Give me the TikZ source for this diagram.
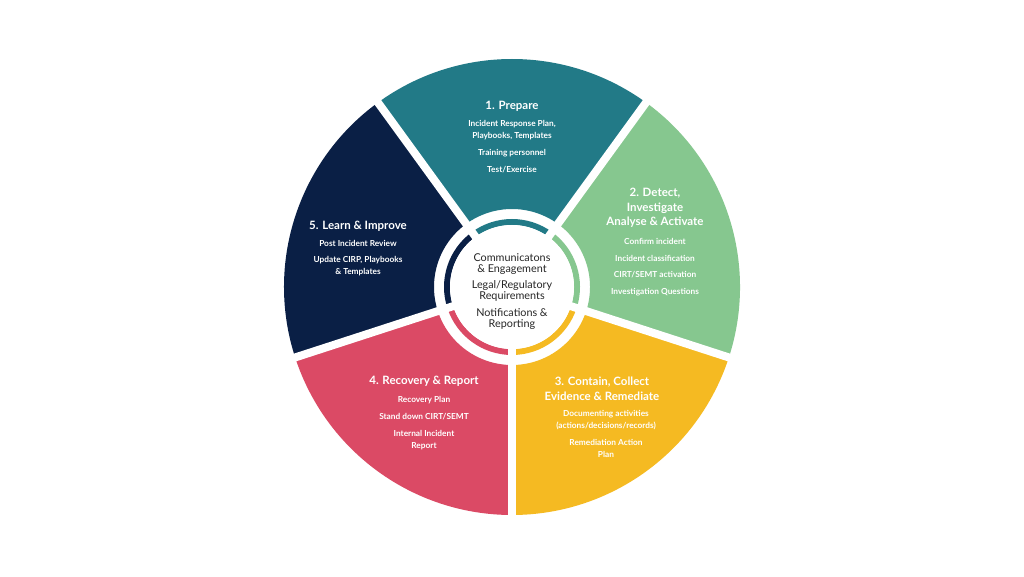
\documentclass[tikz,border=0pt]{standalone}
\usepackage{fontspec}
\setmainfont{Lato}
\usetikzlibrary{calc}
\definecolor{cteal}{HTML}{227A87}
\definecolor{cgreen}{HTML}{86C78F}
\definecolor{cyellow}{HTML}{F5BA22}
\definecolor{cred}{HTML}{DB4A65}
\definecolor{cnavy}{HTML}{0A1F45}
\tikzset{
  title/.style={font=\fontsize{11.5}{14.5}\selectfont\bfseries, text=white, align=center, inner sep=0pt},
  body/.style={font=\fontsize{8.3}{12}\selectfont\bfseries, text=white, align=center, inner sep=0pt},
  inner/.style={font=\fontsize{10.8}{11.5}\selectfont, text=black!85, align=center, inner sep=0pt}
}
\begin{document}
\begin{tikzpicture}[x=1pt,y=1pt]
\useasboundingbox (0,0) rectangle (1024,576);
\fill[white] (0,0) rectangle (1024,576);
\coordinate (c) at (512,289);

% The sectors
\foreach \a/\col in {54/cteal,-18/cgreen,-90/cyellow,-162/cred,-234/cnavy}{
  \fill[\col] ($(c)+(\a:78)$) -- ($(c)+(\a:228)$) arc (\a:\a+72:228) -- ($(c)+(\a+72:78)$) arc (\a+72:\a:78) -- cycle;
  \fill[\col] ($(c)+(\a:62)$) -- ($(c)+(\a:68)$) arc (\a:\a+72:68) -- ($(c)+(\a+72:62)$) arc (\a+72:\a:62) -- cycle;
}

% The gaps
\foreach \a in {54,126,198,270,342}{
  \draw[white,line width=8pt] (c) -- ++(\a:232);
}
\fill[white] (c) circle (62);

% The labels
\node[title] (t1) at (512,470) {1. Prepare};
\node[body] (b1) at (512,446) {Incident Response Plan,\\Playbooks, Templates};
\node[body] (b1b) at (512,423) {Training personnel};
\node[body] (b1c) at (512,406) {Test/Exercise};

\node[title] (t2) at (655,368) {2. Detect,\\Investigate\\Analyse \& Activate};
\node[body] (b2) at (655,335) {Confirm incident};
\node[body] (b2b) at (655,318) {Incident classification};
\node[body] (b2c) at (655,301) {CIRT/SEMT activation};
\node[body] (b2d) at (655,284) {Investigation Questions};

\node[title] (t3) at (602,187) {3. Contain, Collect\\Evidence \& Remediate};
\node[body] (b3) at (606,156) {Documenting activities\\(actions/decisions/records)};
\node[body] (b3b) at (606,128) {Remediation Action\\Plan};

\node[title] (t4) at (424,195) {4. Recovery \& Report};
\node[body] (b4) at (424,176) {Recovery Plan};
\node[body] (b4b) at (424,159) {Stand down CIRT/SEMT};
\node[body] (b4c) at (424,136) {Internal Incident\\Report};

\node[title] (t5) at (358,350) {5. Learn \& Improve};
\node[body] (b5) at (358,333) {Post Incident Review};
\node[body] (b5b) at (358,310) {Update CIRP, Playbooks\\\& Templates};

\node[inner] (i1) at (512,312) {Communicatons\\\& Engagement};
\node[inner] (i2) at (512,285) {Legal/Regulatory\\Requirements};
\node[inner] (i3) at (512,257) {Notifications \&\\Reporting};
\end{tikzpicture}
\end{document}
